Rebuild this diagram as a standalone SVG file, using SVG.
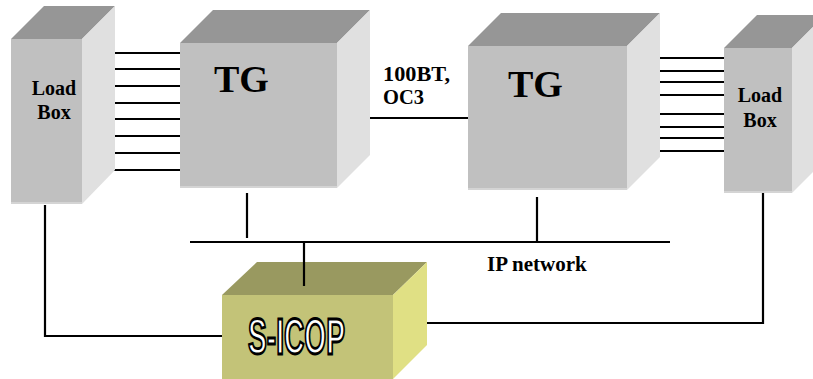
<svg xmlns="http://www.w3.org/2000/svg" width="813" height="379" viewBox="0 0 813 379">
<style>
.front{fill:#c0c0c0}
.top{fill:#969696}
.side{fill:#e0e0e0}
.edge{fill:none;stroke:#d4d4d4;stroke-width:2}
.yfront{fill:#c3c378}
.ytop{fill:#999960}
.yside{fill:#e0e084}
.ln{stroke:#000;stroke-width:2.2;fill:none}
.lbl{font-family:'Liberation Serif',serif;font-weight:bold;fill:#000}
</style>
<rect width="813" height="379" fill="#fff"/>
<g id="connectors">
<path class="ln" d="M104,53H180M102,69H180M106,86H180M106,103H180M104,119H180M102,136H180M105,153H180M106,170H180"/>
<path class="ln" d="M637,58H724M637,71H724M637,82H724M637,95H724M639,114H724M639,127H724M639,138H724M639,151H724"/>
<path class="ln" d="M370,118H468"/>
<path class="ln" d="M190,242H670"/>
<path class="ln" d="M247,193V238M537,197V242M304,241V286"/>
<path class="ln" d="M45,205V336H223"/>
<path class="ln" d="M763,193V323H413"/>
</g>
<g id="loadbox-left">
<polygon class="top" points="11,39 82,39 115,6 44,6"/>
<polygon class="side" points="82,39 115,6 115,170 82,204"/>
<rect class="front" x="11" y="39" width="71" height="165"/>
<path class="edge" d="M11,203H82"/>
<text class="lbl" x="54" y="95" font-size="20" text-anchor="middle" font-family="Liberation Serif, serif">Load</text>
<text class="lbl" x="54" y="119" font-size="20" text-anchor="middle" font-family="Liberation Serif, serif">Box</text>
</g>
<g id="tg-left">
<polygon class="top" points="180,43 337,43 370,10 213,10"/>
<polygon class="side" points="337,43 370,10 370,155 337,188"/>
<rect class="front" x="180" y="43" width="157" height="145"/>
<path class="edge" d="M180,187H337"/>
<text class="lbl" x="214" y="92" font-size="38" font-family="Liberation Serif, serif">TG</text>
</g>
<g id="tg-right">
<polygon class="top" points="468,46 627,46 660,13 501,13"/>
<polygon class="side" points="627,46 660,13 660,157 627,190"/>
<rect class="front" x="468" y="46" width="159" height="144"/>
<path class="edge" d="M468,189H627"/>
<text class="lbl" x="508" y="97" font-size="38" font-family="Liberation Serif, serif">TG</text>
</g>
<g id="loadbox-right">
<polygon class="top" points="724,48 792,48 825,15 757,15"/>
<polygon class="side" points="792,48 825,15 825,160 792,193"/>
<rect class="front" x="724" y="48" width="68" height="145"/>
<path class="edge" d="M724,192H792"/>
<text class="lbl" x="760" y="102" font-size="20" text-anchor="middle" font-family="Liberation Serif, serif">Load</text>
<text class="lbl" x="760" y="127" font-size="20" text-anchor="middle" font-family="Liberation Serif, serif">Box</text>
</g>
<g id="link-label">
<text class="lbl" x="383" y="81" font-size="20.5" font-family="Liberation Serif, serif" textLength="67" lengthAdjust="spacingAndGlyphs">100BT,</text>
<text class="lbl" x="383" y="104" font-size="20.5" font-family="Liberation Serif, serif">OC3</text>
</g>
<g id="ip-network">
<text class="lbl" x="487" y="271" font-size="21" font-family="Liberation Serif, serif">IP network</text>
</g>
<g id="s-icop">
<polygon class="ytop" points="222,295 393,295 427,262 257,262"/>
<polygon class="yside" points="393,295 427,262 427,345 393,379"/>
<rect class="yfront" x="222" y="295" width="171" height="84"/>
<path class="ln" d="M304,262V286"/>
<text x="248" y="354" font-size="50" font-family="Liberation Sans, sans-serif" font-weight="bold" fill="#fff" stroke="#000" stroke-width="2.8" textLength="97" lengthAdjust="spacingAndGlyphs">S-ICOP</text>
</g>
</svg>
